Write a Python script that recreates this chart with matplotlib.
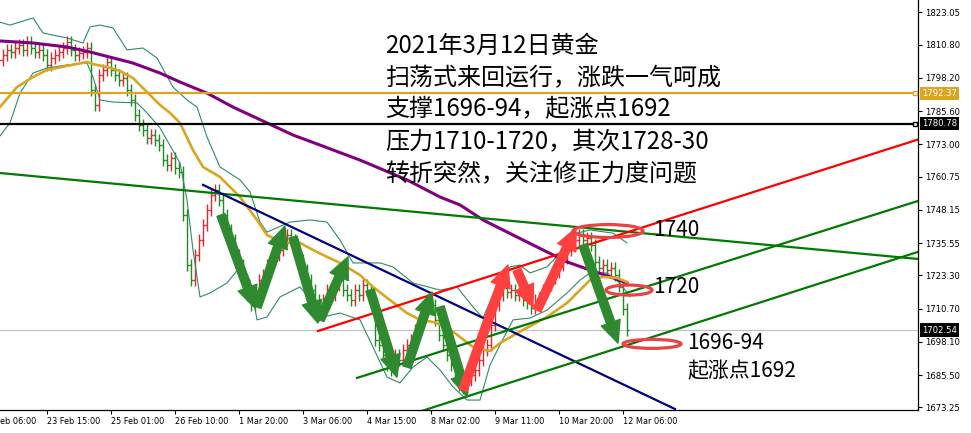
import numpy as np
import matplotlib.pyplot as plt
import matplotlib.transforms as mtransforms
from matplotlib.patches import FancyArrowPatch, Ellipse

plt.rcParams['font.family'] = ['DejaVu Sans']
CJK = ['Noto Sans CJK SC', 'DejaVu Sans']

# H2 closes, one per bar (bar index 0 .. 157)
closes = [
    1805.0, 1806.9, 1808.7, 1808.0, 1809.5, 1810.6, 1808.7, 1811.8, 1809.5, 1808.0,
    1808.7, 1806.9, 1803.1, 1805.7, 1806.9, 1808.0, 1809.5, 1811.8, 1808.7, 1806.9,
    1807.6, 1808.0, 1809.5, 1793.6, 1787.9, 1799.3, 1801.2, 1804.2, 1801.2, 1799.3,
    1797.4, 1798.1, 1793.6, 1789.8, 1784.1, 1780.3, 1778.4, 1775.4, 1776.5, 1774.6,
    1772.7, 1767.0, 1765.1, 1767.8, 1764.0, 1762.5, 1746.2, 1727.2, 1721.5, 1731.0,
    1736.7, 1742.4, 1748.1, 1753.8, 1755.7, 1751.9, 1746.2, 1740.5, 1736.7, 1731.0,
    1727.2, 1721.5, 1715.8, 1712.0, 1717.7, 1721.5, 1723.4, 1727.2, 1729.1, 1731.0,
    1732.9, 1736.7, 1738.6, 1736.7, 1732.9, 1729.1, 1725.3, 1721.5, 1717.7, 1713.9,
    1708.3, 1713.9, 1717.7, 1715.8, 1719.6, 1721.5, 1717.7, 1715.8, 1713.9, 1717.7,
    1715.8, 1719.6, 1717.7, 1713.9, 1698.8, 1696.9, 1693.1, 1689.3, 1687.4, 1693.1,
    1691.2, 1695.0, 1696.9, 1698.8, 1702.6, 1706.4, 1710.1, 1713.9, 1712.0, 1706.4,
    1700.7, 1696.9, 1693.1, 1689.3, 1685.5, 1681.7, 1680.6, 1683.6, 1685.5, 1687.4,
    1691.2, 1695.0, 1696.9, 1704.5, 1712.0, 1715.8, 1718.5, 1717.0, 1717.7, 1715.8,
    1716.6, 1713.9, 1712.8, 1710.9, 1713.9, 1714.7, 1717.7, 1719.6, 1722.3, 1724.6,
    1727.2, 1729.9, 1732.9, 1734.8, 1736.7, 1738.6, 1736.7, 1737.5, 1734.8, 1728.4,
    1726.1, 1727.2, 1725.3, 1726.1, 1723.4, 1719.0, 1710.5, 1702.54,
]

# moving averages (bar index, price)
ma_long_x = [0, 8.5, 17, 22.75, 33.5, 40.25, 45.25, 52, 58.5, 67, 73.5, 80.25, 90.25,
             102, 110.25, 115.25, 121, 131, 142, 147.75, 153.5, 157]
ma_long_y = [1812.2, 1811.4, 1809.9, 1808.0, 1803.8, 1800.0, 1796.6, 1792.4, 1787.1,
             1781.1, 1776.5, 1772.7, 1767.0, 1759.5, 1753.0, 1750.0, 1744.3, 1736.7,
             1728.4, 1725.3, 1722.3, 1720.4]

ma_short_x = [0, 4.5, 8.5, 12, 17, 22, 23.5, 27, 30.25, 33.5, 37, 40.25, 42.75, 45.25,
              48.5, 51, 55.25, 60.25, 64.5, 67, 69.5, 72, 75.25, 78.5, 82, 85.25, 90.25,
              93.5, 97.75, 102, 105.25, 108.5, 112, 115.25, 118.5, 122.75, 125.25, 131,
              137, 142, 145.25, 147.75, 151, 154.5, 157]
ma_short_y = [1786.7, 1794.7, 1798.5, 1801.2, 1802.7, 1804.2, 1803.4, 1802.3, 1800.8,
              1798.1, 1792.8, 1787.9, 1784.9, 1781.1, 1770.8, 1764.4, 1760.6, 1753.0,
              1744.3, 1738.6, 1736.7, 1735.6, 1735.6, 1732.9, 1730.3, 1728.0, 1723.4,
              1718.9, 1713.9, 1709.0, 1706.4, 1705.6, 1703.7, 1699.9, 1696.1, 1694.6,
              1697.6, 1702.6, 1707.5, 1712.8, 1717.7, 1721.5, 1722.7, 1722.3, 1720.8]

bb_up_x = [0, 2.75, 8.5, 11, 17, 21, 22.75, 25.25, 28.5, 32, 36, 39.5, 43.5, 47, 49.5,
           52, 55.25, 60.25, 62.75, 65.25, 67, 72.75, 77.75, 82, 85.25, 88.5, 95.25,
           98.5, 103.5, 110.25, 114.5, 118.5, 121, 124, 127.75, 130.25, 132.75, 137,
           141, 144.5, 147.75, 153.5, 157]
bb_up_y = [1819.4, 1818.2, 1820.9, 1815.2, 1813.3, 1811.4, 1817.5, 1818.2, 1817.1,
           1808.8, 1809.5, 1805.7, 1794.7, 1789.8, 1787.1, 1775.8, 1764.4, 1759.5,
           1754.9, 1743.5, 1739.7, 1743.5, 1744.3, 1743.5, 1736.7, 1728.0, 1728.0,
           1726.5, 1720.4, 1717.7, 1718.9, 1711.3, 1707.1, 1717.7, 1726.5, 1727.2,
           1724.2, 1726.5, 1732.9, 1739.3, 1740.5, 1739.3, 1735.6]

bb_lo_x = [0, 2.75, 5.25, 8.5, 12, 17, 22, 23.5, 25.25, 28.5, 34.5, 37, 40.25, 45.25,
           47, 48.5, 50.25, 52.75, 57, 60.25, 62.75, 64.5, 67, 70.25, 75.25, 78.5, 81,
           85.25, 90.25, 93.5, 97, 100.25, 103.5, 107, 110.25, 113.5, 117, 120.25,
           122.75, 125.25, 128.5, 132.75, 137, 142, 145.25, 147.75, 152, 155.25, 157.75]
bb_lo_y = [1775.7, 1781.1, 1792.4, 1800.0, 1801.9, 1803.1, 1803.8, 1798.5, 1789.8,
           1789.0, 1788.7, 1784.9, 1779.2, 1765.9, 1751.9, 1732.9, 1715.1, 1716.6,
           1720.4, 1726.5, 1721.5, 1706.4, 1707.5, 1715.1, 1718.9, 1712.8, 1707.5,
           1709.0, 1706.4, 1696.1, 1684.7, 1682.5, 1688.5, 1692.3, 1687.4, 1681.0,
           1676.0, 1676.0, 1689.3, 1696.9, 1706.4, 1707.1, 1710.1, 1716.6, 1721.5,
           1724.2, 1724.2, 1720.4, 1715.1]

# horizontal levels
gold_level = 1792.37
black_level = 1780.78
bid_level = 1702.54

# trend lines: (x0, p0, x1, p1)
green_top = (0.25, 1762.1, 229.75, 1729.5)
navy_line = (51, 1757.6, 169, 1672.6)
red_line = (79.75, 1702.2, 229.75, 1774.8)
green_mid = (89.5, 1684.4, 229.75, 1751.5)
green_low = (105.75, 1671.9, 229.75, 1732.2)

# drawn arrows: (x0, p0, x1, p1)
green_arrows = [
    (55.5, 1746.2, 64, 1710.9),
    (64.5, 1711.3, 71.5, 1742.0),
    (73.5, 1737.8, 79.75, 1705.2),
    (80.25, 1706.4, 87.25, 1730.3),
    (92.75, 1717.7, 99.5, 1684.7),
    (102, 1688.5, 108.25, 1717.0),
    (110.25, 1711.3, 117, 1677.2),
    (146, 1734.8, 154.75, 1697.6),
]
red_arrows = [
    (116, 1679.8, 127.25, 1727.2),
    (129.5, 1725.3, 133.5, 1711.3),
    (134.5, 1710.1, 144.25, 1741.2),
]

# circled zones: (x, price, width in bars, height in price)
circles = [(152.25, 1740.1, 17.5, 4.9), (157.5, 1717.7, 11.5, 3.8), (163.25, 1697.3, 14.5, 3.4)]

level_labels = [(163.5, 1740.5, '1740'), (163.5, 1718.9, '1720'),
                (172, 1697.6, '1696-94'), (172, 1687.0, '起涨点1692')]

note_lines = ['2021年3月12日黄金', '扫荡式来回运行，涨跌一气呵成', '支撑1696-94，起涨点1692',
              '压力1710-1720，其次1728-30', '转折突然，关注修正力度问题']

price_ticks = [1823.05, 1810.80, 1798.20, 1785.60, 1773.00, 1760.75, 1748.15,
               1735.55, 1723.30, 1710.70, 1698.10, 1685.50, 1673.25]
time_ticks = [12, 28, 44, 60, 76, 92, 108, 124, 140, 156]
time_labels = ['23 Feb 15:00', '25 Feb 01:00', '26 Feb 10:00', '1 Mar 20:00', '3 Mar 06:00',
               '4 Mar 15:00', '8 Mar 02:00', '9 Mar 11:00', '10 Mar 20:00', '12 Mar 06:00']

fig = plt.figure(figsize=(9.71, 4.33), dpi=100)
ax = fig.add_axes([0, 23 / 433, 918 / 971, 410 / 433])
ax.set_xlim(0.25, 229.75)
ax.set_ylim(1672.23, 1827.71)

# bars: open is the previous close, red = up, green = down
c = np.array(closes)
o = np.concatenate([[c[0] - 1.0], c[:-1]])
idx = np.arange(len(c))
wick = 2.2
col = np.where(c >= o, '#E3262E', '#1F8A1F')
ax.vlines(idx, np.minimum(o, c) - wick, np.maximum(o, c) + wick, colors=col, lw=1.0, zorder=2)
ax.hlines(o, idx - 0.4, idx, colors=col, lw=1.0, zorder=2)
ax.hlines(c, idx, idx + 0.4, colors=col, lw=1.0, zorder=2)

# indicators
ax.plot(bb_up_x, bb_up_y, color='#2E8B6A', lw=0.8, zorder=3)
ax.plot(bb_lo_x, bb_lo_y, color='#2E8B6A', lw=0.8, zorder=3)
ax.plot(ma_long_x, ma_long_y, color='#800080', lw=2.2, zorder=3)
ax.plot(ma_short_x, ma_short_y, color='#DAA520', lw=1.9, zorder=3)

# levels
ax.axhline(bid_level, color='#C0C0C0', lw=0.8, zorder=1)
ax.axhline(gold_level, color='#DAA520', lw=1.6, zorder=4)
ax.axhline(black_level, color='black', lw=1.6, zorder=4)
ax.plot([228.9], [gold_level], marker='s', ms=3.5, mfc='white', mec='#DAA520', mew=1, zorder=5, clip_on=False)
ax.plot([228.9], [black_level], marker='s', ms=3.5, mfc='white', mec='black', mew=1, zorder=5, clip_on=False)

# trend lines
for ln, colr in [(green_top, '#007A00'), (navy_line, '#000080'), (red_line, '#FF0000'),
                 (green_mid, '#007A00'), (green_low, '#007A00')]:
    ax.plot([ln[0], ln[2]], [ln[1], ln[3]], color=colr, lw=1.6, zorder=4)

# arrows
style = 'simple,head_length=1.2,head_width=1.1,tail_width=0.47'
for a in green_arrows:
    ax.add_patch(FancyArrowPatch((a[0], a[1]), (a[2], a[3]), arrowstyle=style, mutation_scale=13,
                                 color='#2F8A2F', shrinkA=0, shrinkB=0, zorder=6))
for a in red_arrows:
    ax.add_patch(FancyArrowPatch((a[0], a[1]), (a[2], a[3]), arrowstyle=style, mutation_scale=13,
                                 color='#FF4040', shrinkA=0, shrinkB=0, zorder=6))

for cx, cy, w, h in circles:
    ax.add_patch(Ellipse((cx, cy), w, h, fill=False, ec='#E84448', lw=2.3, zorder=7))

for x, y, s in level_labels:
    ax.text(x, y, s, fontsize=15, family=CJK, va='center', ha='left', zorder=8)

for k, s in enumerate(note_lines):
    ax.text(385 / 918, 1 - [46, 78, 109, 142, 174][k] / 410, s, transform=ax.transAxes,
            fontsize=17.3, family=CJK, va='center', ha='left', zorder=8)

# right price scale
ax.yaxis.tick_right()
ax.set_yticks(price_ticks)
ax.set_yticklabels(['%.2f' % p for p in price_ticks], fontsize=6.1)
ax.tick_params(axis='y', direction='out', length=3, width=0.8, pad=2)
ax.set_xticks(time_ticks)
ax.set_xticklabels(time_labels, fontsize=5.9)
for lbl in ax.get_xticklabels():
    lbl.set_ha('left')
ax.tick_params(axis='x', direction='out', length=3, width=0.8, pad=2)
first = mtransforms.offset_copy(ax.get_xaxis_transform(), fig=fig, y=-5, units='points')
ax.text(-4, 0, '22 Feb 06:00', transform=first, fontsize=5.9, va='top', ha='left', clip_on=False)

for sp in ['top', 'left']:
    ax.spines[sp].set_visible(False)
for sp in ['right', 'bottom']:
    ax.spines[sp].set_linewidth(0.9)

box_tr = mtransforms.offset_copy(ax.get_yaxis_transform(), fig=fig, x=3, units='points')
for lvl, fc in [(gold_level, '#DAA520'), (black_level, 'black'), (bid_level, 'black')]:
    ax.text(1.0, lvl, '%.2f' % lvl, transform=box_tr, fontsize=6.1, color='white', va='center',
            ha='left', bbox=dict(boxstyle='square,pad=0.25', fc=fc, ec='none'), clip_on=False, zorder=9)

fig.savefig('out.png', dpi=100, facecolor='white')
